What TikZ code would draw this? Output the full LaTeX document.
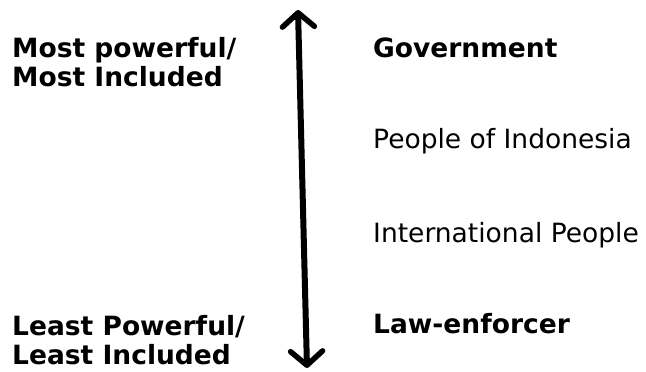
\documentclass[tikz,border=0pt]{standalone}
\usepackage{fontspec}
\setmainfont{DejaVu Sans}
\usetikzlibrary{arrows.meta}

\begin{document}
\begin{tikzpicture}[x=1pt, y=-1pt]
\useasboundingbox (0,0) rectangle (646,372);

\tikzset{
  rank/.style={anchor=base west, inner sep=0pt, align=left, font=\fontsize{26.5}{29}\selectfont},
  strong/.style={rank, font=\fontsize{26.5}{29}\selectfont\bfseries},
  scale arrow/.style={line width=6pt, {Straight Barb[length=14pt, width=32pt, line width=5.5pt, round]}-{Straight Barb[length=14pt, width=32pt, line width=5.5pt, round]}}
}

\coordinate (hi) at (298, 10);
\coordinate (lo) at (307, 368);

% two-line labels are placed by the baseline of their last line
\node[strong] (mostpow) at (12, 86) {Most powerful/\\Most Included};
\node[strong] (leastpow) at (12, 364) {Least Powerful/\\Least Included};

\node[strong] (govt) at (373, 57) {Government};
\node[rank] (indo) at (373, 148) {People of Indonesia};
\node[rank] (intl) at (373, 242) {International People};
\node[strong] (law) at (373, 333) {Law-enforcer};

\draw[scale arrow] (lo) -- (hi);

\end{tikzpicture}
\end{document}
